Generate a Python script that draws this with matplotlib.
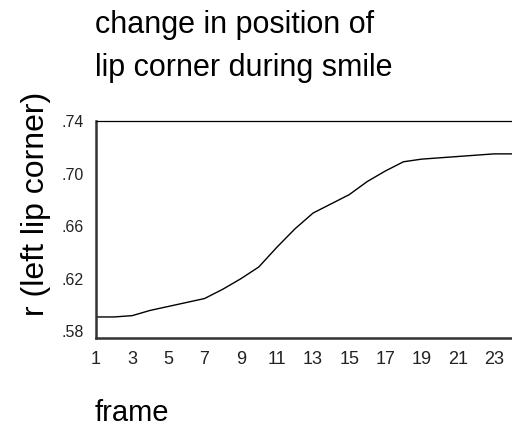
import matplotlib
matplotlib.use("Agg")
import matplotlib.pyplot as plt

# data
frames = list(range(1, 25))
r_left = [0.591, 0.591, 0.592, 0.596, 0.599, 0.602, 0.605, 0.612, 0.620, 0.629,
          0.644, 0.658, 0.670, 0.677, 0.684, 0.694, 0.702, 0.709, 0.711, 0.712,
          0.713, 0.714, 0.715, 0.715]
yticks = [0.58, 0.62, 0.66, 0.70, 0.74]
ytick_labels = ['.58', '.62', '.66', '.70', '.74']
xticks = list(range(1, 24, 2))

plt.rcParams['font.family'] = ['Liberation Sans', 'DejaVu Sans']

W, H = 512, 426
fig = plt.figure(figsize=(W / 100, H / 100), dpi=100)
ax = fig.add_axes([96 / W, (H - 338) / H, 1 - 96 / W, (338 - 121) / H])

ax.plot(frames, r_left, color='black', linewidth=1.0)
ax.set_xlim(1, 24)
ax.set_ylim(0.575, 0.74)
ax.set_xticks(xticks)
ax.set_xticklabels([str(x) for x in xticks], fontsize=13, color='#222222')
ax.set_yticks(yticks)
ax.set_yticklabels(ytick_labels, fontsize=11.5, color='#222222')
ax.tick_params(axis='x', length=0, pad=9)
ax.tick_params(axis='y', length=0, pad=9)

ax.spines['right'].set_visible(False)
ax.spines['top'].set_linewidth(0.9)
for side in ('left', 'bottom'):
    ax.spines[side].set_linewidth(1.8)
    ax.spines[side].set_color('#333333')

fig.text(95 / W, 1 - 33 / H, 'change in position of', fontsize=22,
         ha='left', va='baseline')
fig.text(95 / W, 1 - 76 / H, 'lip corner during smile', fontsize=22,
         ha='left', va='baseline')
fig.text(36 / W, 1 - 204 / H, 'r (left lip corner)', fontsize=23,
         rotation=90, ha='center', va='center')
fig.text(95 / W, 1 - 421 / H, 'frame', fontsize=21, ha='left', va='baseline')

fig.savefig('out.png', dpi=100)
